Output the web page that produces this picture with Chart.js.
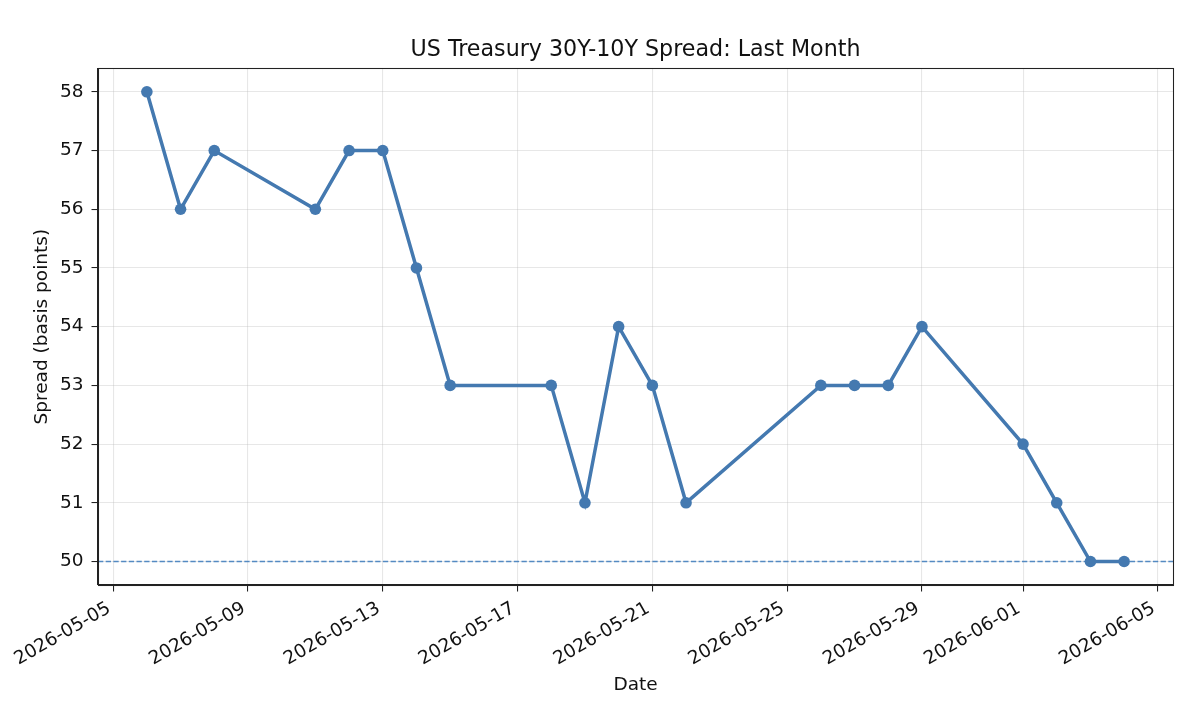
<!DOCTYPE html>
<html>
<head>
<meta charset="utf-8">
<script src="https://cdn.jsdelivr.net/npm/chart.js@4.4.1/dist/chart.umd.min.js"></script>
<style>
  html, body { margin: 0; padding: 0; background: #fff; }
  #wrap { width: 1199px; height: 703px; }
</style>
</head>
<body>
<div id="wrap"><canvas id="c" width="1199" height="703"></canvas></div>
<script>
// ---- data ----
const dates = ["2026-05-06","2026-05-07","2026-05-08","2026-05-11","2026-05-12","2026-05-13","2026-05-14","2026-05-15","2026-05-18","2026-05-19","2026-05-20","2026-05-21","2026-05-22","2026-05-26","2026-05-27","2026-05-28","2026-05-29","2026-06-01","2026-06-02","2026-06-03","2026-06-04"];
const spread = [58,56,57,56,57,57,55,53,53,51,54,53,51,53,53,53,54,52,51,50,50];
const xTickLabels = ["2026-05-05","2026-05-09","2026-05-13","2026-05-17","2026-05-21","2026-05-25","2026-05-29","2026-06-01","2026-06-05"];
const yTicks = [50,51,52,53,54,55,56,57,58];
const referenceLevel = 50;

const DAY = 86400000;
const origin = Date.UTC(2026, 4, 5);
function dayNum(s) { const [y,m,d] = s.split('-').map(Number); return (Date.UTC(y, m-1, d) - origin) / DAY; }

const points = dates.map((d, i) => ({ x: dayNum(d), y: spread[i] }));
const xTickVals = xTickLabels.map(dayNum);
const firstX = points[0].x, lastX = points[points.length-1].x;
const xMargin = (lastX - firstX) * 0.05;
const xMin = firstX - xMargin, xMax = lastX + xMargin;
const yMinD = Math.min(...spread), yMaxD = Math.max(...spread);
const yMargin = (yMaxD - yMinD) * 0.05;

const COLOR = '#4479b0';
const FONT = "'DejaVu Sans', sans-serif";
const TICK_FONT = { family: FONT, size: 18.5 };
const GRID = { color: 'rgba(176,176,176,0.3)', lineWidth: 1.07, tickColor: '#222', tickLength: 6.5, tickWidth: 1.07 };

const framePlugin = {
  id: 'frame',
  afterDraw(chart) {
    const { ctx, chartArea: a } = chart;
    ctx.save();
    ctx.strokeStyle = '#222';
    ctx.lineWidth = 1.07;
    ctx.strokeRect(Math.round(a.left) + 0.5, Math.round(a.top) + 0.5, Math.round(a.right - a.left), Math.round(a.bottom - a.top));
    ctx.restore();
  }
};

new Chart(document.getElementById('c'), {
  type: 'line',
  data: {
    datasets: [
      {
        label: 'Spread',
        data: points,
        borderColor: COLOR,
        backgroundColor: COLOR,
        borderWidth: 3.5,
        pointRadius: 5.8,
        pointBorderWidth: 0,
        pointBackgroundColor: COLOR,
        tension: 0,
        order: 1
      },
      {
        label: 'Reference',
        data: [{ x: xMin, y: referenceLevel }, { x: xMax, y: referenceLevel }],
        borderColor: 'rgba(68,128,190,0.9)',
        borderWidth: 1.5,
        borderDash: [5.3, 2.4],
        pointRadius: 0,
        order: 2
      }
    ]
  },
  options: {
    responsive: false,
    animation: false,
    layout: { padding: { left: 0, right: 26, top: 0, bottom: 0 } },
    plugins: {
      legend: { display: false },
      tooltip: { enabled: false },
      title: {
        display: true,
        text: 'US Treasury 30Y-10Y Spread: Last Month',
        color: '#111',
        fullSize: false,
        font: { family: FONT, size: 22.2, weight: 'normal', lineHeight: 1.2 },
        padding: { top: 37, bottom: 4.7 }
      }
    },
    scales: {
      x: {
        type: 'linear',
        min: xMin,
        max: xMax,
        afterBuildTicks(scale) { scale.ticks = xTickVals.map(v => ({ value: v })); },
        afterFit(scale) { scale.height = 118; },
        ticks: {
          autoSkip: false,
          minRotation: 30,
          maxRotation: 30,
          padding: 6,
          labelOffset: -4,
          color: '#111',
          font: TICK_FONT,
          callback(v) { const i = xTickVals.indexOf(v); return i >= 0 ? xTickLabels[i] : ''; }
        },
        grid: GRID,
        border: { color: '#222', width: 1.07 },
        title: { display: true, text: 'Date', color: '#111', font: { family: FONT, size: 18.5 }, padding: { top: 0, bottom: 7 } }
      },
      y: {
        type: 'linear',
        min: yMinD - yMargin,
        max: yMaxD + yMargin,
        afterBuildTicks(scale) { scale.ticks = yTicks.map(v => ({ value: v })); },
        afterFit(scale) { scale.width = 98; },
        ticks: {
          padding: 8,
          color: '#111',
          font: TICK_FONT,
          callback(v) { return String(v); }
        },
        grid: GRID,
        border: { color: '#222', width: 1.07 },
        title: { display: true, text: 'Spread (basis points)', color: '#111', font: { family: FONT, size: 18.5 }, padding: { top: 31, bottom: 0 } }
      }
    }
  },
  plugins: [framePlugin]
});
</script>
</body>
</html>
